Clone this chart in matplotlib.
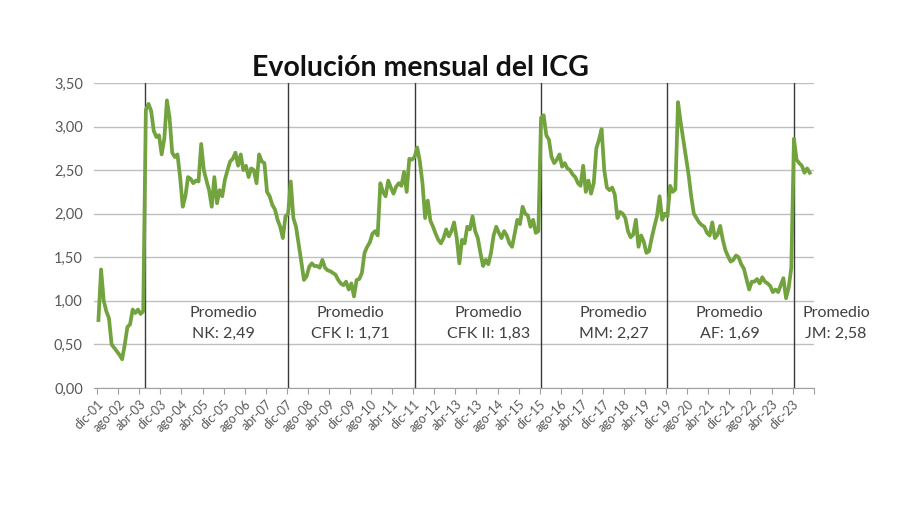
import numpy as np
import matplotlib.pyplot as plt

# ---------------------------------------------------------------
# ICG monthly values (dic-01 .. jun-24), split by government
# ---------------------------------------------------------------
duhalde = [0.78, 1.36, 1.0, 0.88, 0.8, 0.5, 0.46, 0.42, 0.38, 0.33, 0.5, 0.7,
           0.73, 0.9, 0.86, 0.9, 0.85, 0.88]
nk = [3.19, 3.26, 3.18, 2.95, 2.88, 2.9, 2.68, 2.86, 3.3, 3.1, 2.7, 2.65,
      2.68, 2.42, 2.08, 2.2, 2.42, 2.4, 2.35, 2.38,
      2.37, 2.8, 2.5, 2.38, 2.27, 2.08, 2.42, 2.12, 2.27, 2.2, 2.39, 2.5,
      2.6, 2.63, 2.7, 2.55, 2.68, 2.5, 2.55, 2.42, 2.52, 2.5, 2.35, 2.68,
      2.6, 2.58, 2.25, 2.2, 2.1, 2.05, 1.93, 1.85, 1.72, 1.97]
cfk1 = [2.0, 2.37, 1.95, 1.85, 1.65, 1.45, 1.24, 1.28, 1.39, 1.43, 1.4, 1.4,
        1.38, 1.47, 1.38, 1.35, 1.34, 1.32, 1.3, 1.24, 1.2, 1.18, 1.22, 1.13,
        1.2, 1.05, 1.24, 1.25, 1.32, 1.55, 1.62, 1.67, 1.77, 1.8, 1.75, 2.35,
        2.25, 2.2, 2.38, 2.3, 2.23, 2.31, 2.35, 2.32, 2.48, 2.25, 2.63, 2.62]
cfk2 = [2.65, 2.76, 2.6, 2.35, 1.95, 2.15, 1.92, 1.85, 1.77, 1.7, 1.66, 1.72,
        1.82, 1.74, 1.8, 1.9, 1.72, 1.43, 1.7, 1.66, 1.85, 1.82, 1.97, 1.8,
        1.72, 1.55, 1.4, 1.47, 1.42, 1.55, 1.75, 1.85, 1.78, 1.72, 1.8, 1.75,
        1.66, 1.62, 1.77, 1.93, 1.88, 2.08, 2.0, 1.98, 1.85, 1.93, 1.78, 1.8]
mm = [3.1, 3.13, 2.9, 2.85, 2.65, 2.58, 2.62, 2.68, 2.54, 2.58, 2.52, 2.5,
      2.45, 2.42, 2.35, 2.32, 2.55, 2.25, 2.38, 2.23, 2.35, 2.75, 2.85, 2.97,
      2.5, 2.3, 2.27, 2.3, 2.22, 1.95, 2.02, 2.0, 1.95, 1.8, 1.73, 1.76,
      1.93, 1.62, 1.75, 1.68, 1.55, 1.57, 1.72, 1.85, 1.97, 2.2, 1.93, 2.0]
af = [1.97, 2.32, 2.25, 2.28, 3.28, 3.05, 2.85, 2.65, 2.45, 2.2, 2.0, 1.95,
      1.9, 1.87, 1.85, 1.78, 1.75, 1.9, 1.72, 1.76, 1.86, 1.7, 1.58, 1.51,
      1.45, 1.47, 1.52, 1.5, 1.42, 1.37, 1.25, 1.13, 1.22, 1.22, 1.25, 1.2,
      1.27, 1.22, 1.2, 1.17, 1.1, 1.13, 1.1, 1.18, 1.26, 1.03, 1.15, 1.38]
jm = [2.86, 2.62, 2.58, 2.55, 2.47, 2.52, 2.47]

icg = duhalde + nk + cfk1 + cfk2 + mm + af + jm

tick_labels = ['dic-01', 'ago-02', 'abr-03', 'dic-03', 'ago-04', 'abr-05',
               'dic-05', 'ago-06', 'abr-07', 'dic-07', 'ago-08', 'abr-09',
               'dic-09', 'ago-10', 'abr-11', 'dic-11', 'ago-12', 'abr-13',
               'dic-13', 'ago-14', 'abr-15', 'dic-15', 'ago-16', 'abr-17',
               'dic-17', 'ago-18', 'abr-19', 'dic-19', 'ago-20', 'abr-21',
               'dic-21', 'ago-22', 'abr-23', 'dic-23', '']

# change of government (month index where the vertical line goes)
cambios = [17.5, 72, 120, 168, 216, 264]
promedios = ['NK: 2,49', 'CFK I: 1,71', 'CFK II: 1,83', 'MM: 2,27',
             'AF: 1,69', 'JM: 2,58']
label_x = [47.5, 95.5, 148, 195.5, 239.5, 280]

yticks = [0, 0.5, 1.0, 1.5, 2.0, 2.5, 3.0, 3.5]

# ---------------------------------------------------------------
plt.rcParams['font.family'] = ['Lato', 'DejaVu Sans']

fig = plt.figure(figsize=(9, 5.05), dpi=100)
ax = fig.add_axes([0.1044, 0.2317, 0.80, 0.604])

x = np.arange(len(icg))
ax.plot(x, icg, color='#72a33e', lw=2.7, solid_joinstyle='round', zorder=3)

for c in cambios:
    ax.axvline(c, color='#3a3a3a', lw=1.0, zorder=2)

for lx, txt in zip(label_x, promedios):
    ax.text(lx, 0.86, 'Promedio', ha='center', va='center', fontsize=11.5,
            color='#404040')
    ax.text(lx, 0.62, txt, ha='center', va='center', fontsize=11.5,
            color='#404040')

ax.set_ylim(0, 3.5)
ax.set_xlim(-1.7, 271.6)
ax.set_yticks(yticks)
ax.set_yticklabels([f'{v:.2f}'.replace('.', ',') for v in yticks],
                   fontsize=10.5, color='#595959')
ax.grid(axis='y', color='#bfbfbf', lw=1.0)
ax.set_axisbelow(True)

ax.set_xticks(np.arange(len(tick_labels)) * 8 - 0.5)
ax.set_xticklabels(tick_labels, rotation=45, ha='right',
                   rotation_mode='anchor', fontsize=9, color='#595959')
ax.tick_params(axis='x', length=4, color='#a0a0a0', pad=3)
ax.tick_params(axis='y', length=0, pad=8)

for s in ['top', 'right', 'left']:
    ax.spines[s].set_visible(False)
ax.spines['bottom'].set_color('#a0a0a0')

fig.text(0.467, 0.866, 'Evolución mensual del ICG', ha='center',
         va='center', fontsize=20.5, fontweight='bold', color='#111111')

fig.savefig('out.png', dpi=100, facecolor='white')
